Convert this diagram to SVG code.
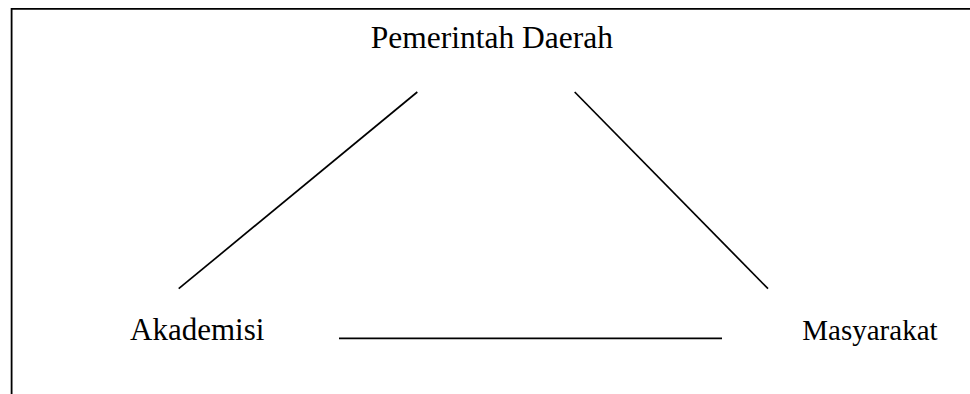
<svg xmlns="http://www.w3.org/2000/svg" width="970" height="394" viewBox="0 0 970 394">
<style>
.lbl{font-family:"Liberation Serif","Times New Roman",serif;fill:#000}
.ln{stroke:#000;stroke-width:1.7;fill:none}
</style>
<rect width="970" height="394" fill="#fff"/>
<g id="frame">
<path d="M11.6 394 V8.8 H970" stroke="#000" stroke-width="1.8" fill="none"/>
</g>
<g id="node-pemerintah">
<text class="lbl" x="370.7" y="48.3" font-size="31.5">Pemerintah Daerah</text>
</g>
<g id="node-akademisi">
<text class="lbl" x="130" y="339.5" font-size="31">Akademisi</text>
</g>
<g id="node-masyarakat">
<text class="lbl" x="802.3" y="339.5" font-size="29">Masyarakat</text>
</g>
<g id="connectors">
<line class="ln" x1="417.3" y1="92" x2="178.7" y2="288.7"/>
<line class="ln" x1="574.7" y1="92" x2="768" y2="288.7"/>
<line class="ln" x1="339" y1="338.3" x2="722" y2="338.3" stroke-width="2.2"/>
</g>
</svg>
